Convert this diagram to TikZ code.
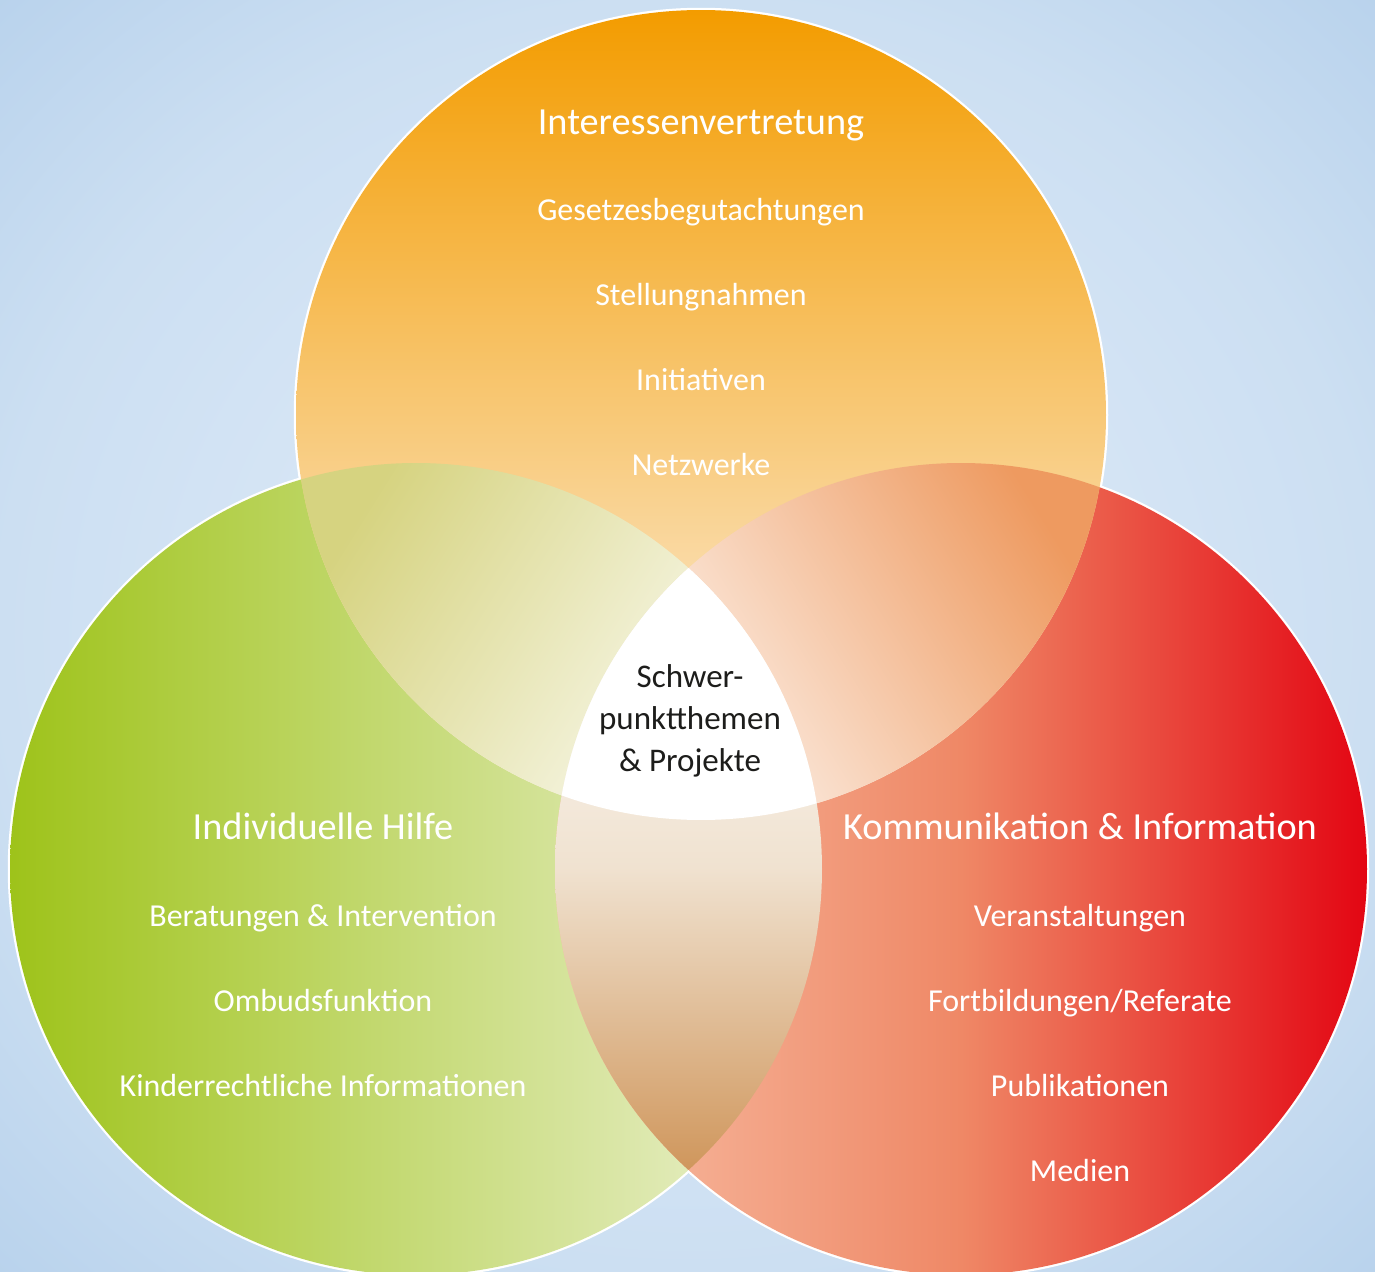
\documentclass[tikz,border=0pt]{standalone}
\usepackage{fontspec}
\setmainfont{Carlito}
\usepackage{xcolor}
\usepackage{tikz}
\usetikzlibrary{positioning}

\definecolor{skyin}{HTML}{E4EEF9}
\definecolor{skymid}{HTML}{CCDFF2}
\definecolor{skyout}{HTML}{B8D2EC}
\definecolor{intdark}{HTML}{F39C00}
\definecolor{intlight}{HTML}{FDF5EE}
\definecolor{hilfedark}{HTML}{9EC31A}
\definecolor{hilfelight}{HTML}{EEF2D6}
\definecolor{kommdark}{HTML}{E30613}
\definecolor{kommmid}{HTML}{EF8866}
\definecolor{kommlight}{HTML}{F7BFA6}
\definecolor{lensgreen}{HTML}{D6D380}
\definecolor{lensred}{HTML}{EE9A60}
\definecolor{lensbrown}{HTML}{CF955A}
\definecolor{lensbrownmid}{HTML}{F0E2D0}
\definecolor{coretext}{HTML}{1D1D1B}

\pgfdeclareradialshading{sky}{\pgfpoint{0bp}{0bp}}{color(0bp)=(skyin); color(25bp)=(skymid); color(36bp)=(skyout); color(50bp)=(skyout)}

\begin{document}
\begin{tikzpicture}[
    x=0.1mm, y=-0.1mm,
    rim/.style={draw=white, line width=0.45mm},
    title/.style={text=white, anchor=base, font=\fontsize{10.9}{13}\selectfont},
    item/.style={text=white, anchor=base, font=\fontsize{9.1}{11}\selectfont},
    core/.style={text=coretext, align=center, font=\fontsize{9.4}{12}\selectfont}
]
    \useasboundingbox (0,0) rectangle (1375,1272);

    % Background
    \shade[shading=sky] (0,0) rectangle (1375,1272);

    % Circle centres
    \coordinate (int) at (701,415);
    \coordinate (hilfe) at (416,869);
    \coordinate (komm) at (961,869);

    % White rims, the fills cover their inner halves
    \draw[rim] (int) circle (40.5mm);
    \draw[rim] (hilfe) circle (40.6mm);
    \draw[rim] (komm) circle (40.6mm);

    % Circles
    \shade[left color=hilfedark, right color=hilfelight] (hilfe) circle (40.6mm);
    \shade[left color=kommlight, right color=kommdark, middle color=kommmid] (komm) circle (40.6mm);
    \shade[top color=intdark, bottom color=intlight] (int) circle (40.5mm);

    % Overlaps
    \begin{scope}
        \clip (int) circle (40.5mm);
        \clip (hilfe) circle (40.6mm);
        \shade[top color=lensgreen, bottom color=white, shading angle=58] (290,455) rectangle (830,830);
    \end{scope}
    \begin{scope}
        \clip (int) circle (40.5mm);
        \clip (komm) circle (40.6mm);
        \shade[top color=lensred, bottom color=white, shading angle=-58] (545,455) rectangle (1115,830);
    \end{scope}
    \begin{scope}
        \clip (hilfe) circle (40.6mm);
        \clip (komm) circle (40.6mm);
        \shade[top color=white, bottom color=lensbrown, middle color=lensbrownmid] (550,560) rectangle (830,1175);
    \end{scope}
    \begin{scope}
        \clip (int) circle (40.5mm);
        \clip (hilfe) circle (40.6mm);
        \clip (komm) circle (40.6mm);
        \fill[white] (500,500) rectangle (900,900);
    \end{scope}

    % Labels
    \node[title] (intTitle) at (701,135) {Interessenvertretung};
    \foreach \txt [count=\i] in {Gesetzesbegutachtungen, Stellungnahmen, Initiativen, Netzwerke}
        \node[item] (int\i) at (701,136+85*\i) {\txt};

    \node[title] (hilfeTitle) at (323,839) {Individuelle Hilfe};
    \foreach \txt [count=\i] in {Beratungen \& Intervention, Ombudsfunktion, Kinderrechtliche Informationen}
        \node[item] (hilfe\i) at (323,841+85*\i) {\txt};

    \node[title] (kommTitle) at (1080,839) {Kommunikation \& Information};
    \foreach \txt [count=\i] in {Veranstaltungen, Fortbildungen/Referate, Publikationen, Medien}
        \node[item] (komm\i) at (1080,841+85*\i) {\txt};

    \node[core] (core) at (690,721) {Schwer-\\punktthemen\\\& Projekte};
\end{tikzpicture}
\end{document}
